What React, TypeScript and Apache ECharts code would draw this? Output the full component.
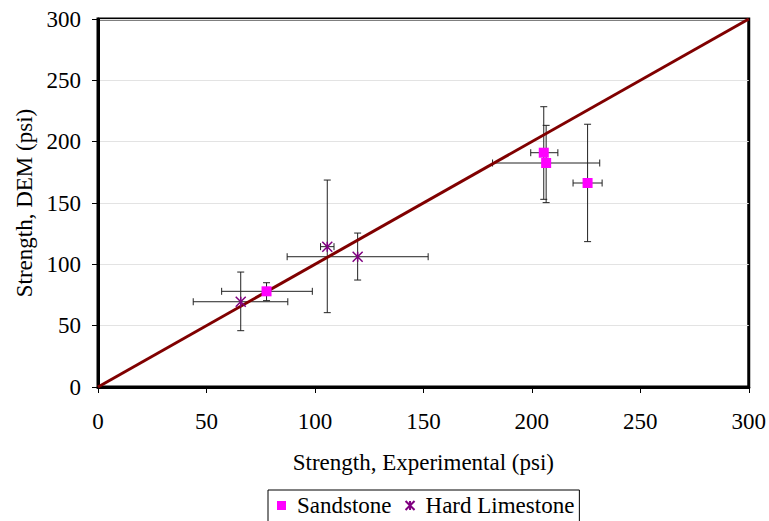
import React, { useEffect, useRef } from "react";
import * as echarts from "echarts";

// Sandstone: x, y, and error-bar extents
const sandX = [77.7, 205.5, 206.6, 225.7];
const sandY = [78, 191, 182.6, 166.3];
const sandXLo = [57, 199.5, 181.9, 219];
const sandXHi = [98.8, 212, 231.3, 232.4];
const sandYLo = [70.4, 153, 150.3, 118.5];
const sandYHi = [85, 228.5, 213.3, 214.2];

// Hard Limestone
const limeX = [65.8, 105.7, 119.7];
const limeY = [69.5, 114.4, 106.2];
const limeXLo = [43.9, 102.6, 87.2];
const limeXHi = [87.5, 108.8, 152.2];
const limeYLo = [45.9, 60.6, 87.2];
const limeYHi = [93.7, 168.7, 125.5];

// 1:1 reference line
const refLine = [
  [0, 0],
  [300, 300],
];

const axisTicks = { min: 0, max: 300, interval: 50 };

const FONT = "Liberation Serif";
const STAR = "path://M0,0L10,10M10,0L0,10M5,0L5,10";

function errRows(x: number[], y: number[], xl: number[], xh: number[], yl: number[], yh: number[]) {
  return x.map((v, i) => [v, y[i], xl[i], xh[i], yl[i], yh[i]]);
}

export default function App() {
  const ref = useRef<HTMLDivElement>(null);
  useEffect(() => {
    if (!ref.current) return;
    const chart = echarts.init(ref.current, null, { renderer: "svg" });
    const errData = [
      ...errRows(sandX, sandY, sandXLo, sandXHi, sandYLo, sandYHi),
      ...errRows(limeX, limeY, limeXLo, limeXHi, limeYLo, limeYHi),
    ];
    const cap = 3.5;
    const txt = { fontFamily: FONT, fontSize: 23, color: "#000" };
    chart.setOption({
      animation: false,
      backgroundColor: "#fff",
      textStyle: { fontFamily: FONT },
      grid: {
        left: 98,
        top: 19,
        right: 20,
        bottom: 134,
        show: true,
        borderColor: "#000",
        borderWidth: 3,
      },
      legend: {
        data: ["Sandstone", "Hard Limestone"],
        left: 268,
        top: 490,
        orient: "horizontal",
        borderColor: "#000",
        borderWidth: 1,
        borderRadius: 0,
        padding: [4, 5, 10, 9],
        itemWidth: 9,
        itemHeight: 9,
        itemGap: 13,
        textStyle: { ...txt, padding: [0, 0, 0, 6] },
      },
      xAxis: {
        type: "value",
        ...axisTicks,
        name: "Strength, Experimental (psi)",
        nameLocation: "middle",
        nameGap: 64,
        nameTextStyle: txt,
        axisLine: { show: true, lineStyle: { color: "#000", width: 3 } },
        axisTick: { show: true, length: 6, lineStyle: { color: "#000", width: 1 } },
        axisLabel: { ...txt, margin: 23 },
        splitLine: { show: false },
      },
      yAxis: {
        type: "value",
        ...axisTicks,
        name: "Strength, DEM (psi)",
        nameLocation: "middle",
        nameGap: 62,
        nameTextStyle: txt,
        axisLine: { show: true, lineStyle: { color: "#000", width: 3 } },
        axisTick: { show: true, length: 6, lineStyle: { color: "#000", width: 1 } },
        axisLabel: { ...txt, margin: 17 },
        splitLine: { show: true, lineStyle: { color: "#e3e3e3", width: 1 } },
      },
      series: [
        {
          type: "custom",
          name: "errors",
          silent: true,
          z: 1,
          data: errData,
          encode: { x: [0, 2, 3], y: [1, 4, 5] },
          renderItem: (params: any, api: any) => {
            const x = api.value(0);
            const y = api.value(1);
            const pxl = api.coord([api.value(2), y]);
            const pxh = api.coord([api.value(3), y]);
            const pyl = api.coord([x, api.value(4)]);
            const pyh = api.coord([x, api.value(5)]);
            const style = { stroke: "#222", lineWidth: 1 };
            const ln = (x1: number, y1: number, x2: number, y2: number) => ({
              type: "line",
              shape: { x1, y1, x2, y2 },
              style,
            });
            return {
              type: "group",
              children: [
                ln(pxl[0], pxl[1], pxh[0], pxh[1]),
                ln(pxl[0], pxl[1] - cap, pxl[0], pxl[1] + cap),
                ln(pxh[0], pxh[1] - cap, pxh[0], pxh[1] + cap),
                ln(pyl[0], pyl[1], pyh[0], pyh[1]),
                ln(pyl[0] - cap, pyl[1], pyl[0] + cap, pyl[1]),
                ln(pyh[0] - cap, pyh[1], pyh[0] + cap, pyh[1]),
              ],
            };
          },
        },
        {
          type: "line",
          name: "ref",
          silent: true,
          z: 2,
          data: refLine,
          symbol: "none",
          lineStyle: { color: "#800000", width: 3 },
        },
        {
          type: "scatter",
          name: "Sandstone",
          z: 3,
          data: sandX.map((v, i) => [v, sandY[i]]),
          symbol: "rect",
          symbolSize: 10,
          itemStyle: { color: "#ff00ff", opacity: 1 },
        },
        {
          type: "scatter",
          name: "Hard Limestone",
          z: 3,
          data: limeX.map((v, i) => [v, limeY[i]]),
          symbol: STAR,
          symbolSize: 10,
          itemStyle: { color: "transparent", borderColor: "#800080", borderWidth: 1.5, opacity: 1 },
        },
      ],
    });
    return () => chart.dispose();
  }, []);
  return (
    <div
      ref={ref}
      style={{ position: "fixed", left: 0, top: 0, width: 769, height: 521, background: "#fff" }}
    />
  );
}
